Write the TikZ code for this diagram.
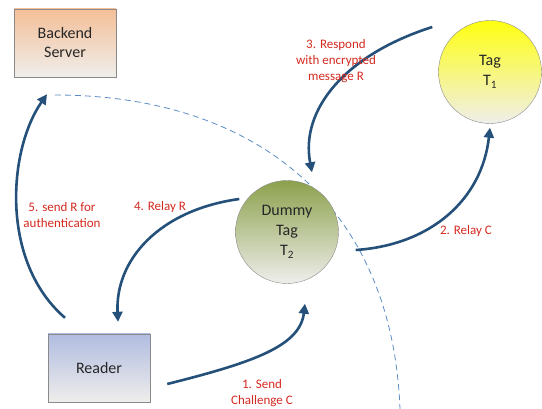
\documentclass[tikz,border=0pt]{standalone}
\usepackage{fontspec}
\setmainfont{Carlito}
\usepackage{xcolor}
\usetikzlibrary{calc,arrows.meta}
\definecolor{flowblue}{HTML}{24507A}
\definecolor{cutblue}{HTML}{5B8CC4}
\definecolor{labelred}{HTML}{D42A20}
\definecolor{edgegray}{HTML}{8A8A8A}
\definecolor{inkgray}{HTML}{262626}
\definecolor{paleend}{HTML}{EFEEEC}
\definecolor{servertop}{HTML}{F4BF97}
\definecolor{readertop}{HTML}{B1BCE0}
\definecolor{tagtop}{HTML}{FFFF10}
\definecolor{dummytop}{HTML}{8CA14C}

\begin{document}
\begin{tikzpicture}[x=1pt,y=-1pt,
	box/.style={draw=edgegray, minimum width=102pt, minimum height=68pt, align=center, text=inkgray, font=\fontsize{16}{19}\selectfont},
	tag/.style={circle, draw=edgegray, minimum size=103pt, align=center, text=inkgray, font=\fontsize{16}{20}\selectfont},
	flow/.style={flowblue, line width=2.6pt, -{Triangle[length=10pt,width=10pt]}},
	lbl/.style={text=labelred, align=center, font=\fontsize{13}{16}\selectfont}]
	% Frame
	\useasboundingbox (0,0) rectangle (542,409);
	% Draw the boundary of the reading range
	\draw[cutblue, line width=0.8pt, dash pattern=on 6pt off 4pt] (55,95) .. controls (250,95) and (392,200) .. (400,409);
	% Draw boxes and tags
	\node[box, top color=servertop, bottom color=paleend] (backend) at (65,43) {Backend\\Server};
	\node[box, top color=readertop, bottom color=paleend] (reader) at (99,368) {Reader};
	\node[tag, top color=tagtop, bottom color=paleend] (t1) at (490,72) {Tag\\T\textsubscript{1}};
	\node[tag, top color=dummytop, bottom color=paleend] (t2) at (287,232) {Dummy\\Tag\\T\textsubscript{2}};
	% Ends of the arrows
	\coordinate (a1) at ($(reader.east)+(17,16)$);
	\coordinate (b1) at ($(t2.south)+(18,20)$);
	\coordinate (a2) at ($(t2.east)+(17,18)$);
	\coordinate (b2) at ($(t1.south)+(0,4)$);
	\coordinate (a3) at ($(t1.west)+(-6,-45)$);
	\coordinate (b3) at ($(t2.north)+(25,-8)$);
	\coordinate (a4) at ($(t2.west)+(4,-33)$);
	\coordinate (b4) at ($(reader.north)+(19,-12)$);
	\coordinate (a5) at ($(reader.north)+(-34,-16)$);
	\coordinate (b5) at ($(backend.south)+(-18,17)$);
	% Draw the message flow
	\draw[flow] (a1) .. controls +(88,-22) and +(-5,42) .. (b1);
	\draw[flow] (a2) .. controls +(75,-5) and +(-8,72) .. (b2);
	\draw[flow] (a3) .. controls +(-88,28) and +(-12,-62) .. (b3);
	\draw[flow] (a4) .. controls +(-80,11) and +(-3,-62) .. (b4);
	\draw[flow] (a5) .. controls +(-65,-56) and +(-39,56) .. (b5);
	% Labels
	\node[lbl] (l1) at (262,393) {1. Send\\Challenge C};
	\node[lbl] (l2) at (466,231) {2. Relay C};
	\node[lbl] (l3) at (336,61) {3. Respond\\with encrypted\\message R};
	\node[lbl] (l4) at (160,207) {4. Relay R};
	\node[lbl] (l5) at (62,215) {5. send R for\\authentication};
\end{tikzpicture}
\end{document}
